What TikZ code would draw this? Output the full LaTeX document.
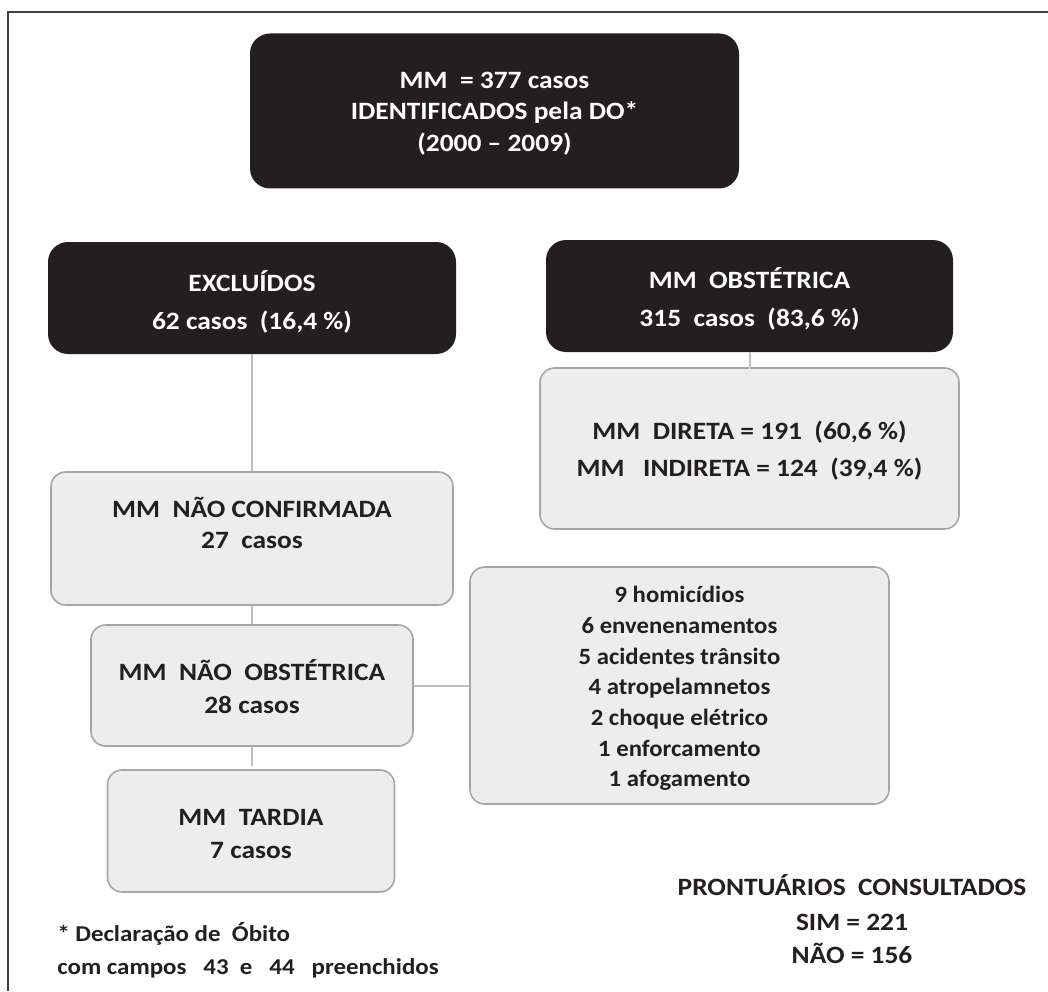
\documentclass[tikz,border=0pt]{standalone}
\usepackage{fontspec}
\setmainfont{Carlito}
\newfontfamily\widef[FakeStretch=1.1,Ligatures=TeX]{Carlito}
\newfontfamily\listf[FakeStretch=1.06,Ligatures=TeX]{Carlito}
\definecolor{darkbox}{HTML}{231F20}
\definecolor{lightfill}{HTML}{EDEDED}
\definecolor{lightdraw}{HTML}{A6A6A6}
\definecolor{conn}{HTML}{BFBFBF}
\definecolor{frame}{HTML}{404040}
\begin{document}
\begin{tikzpicture}[x=0.75pt,y=-0.75pt,
  darkbox/.style={fill=darkbox,draw=none,rounded corners=15pt,inner sep=0pt},
  lightbox/.style={fill=lightfill,draw=lightdraw,line width=1.2pt,rounded corners=11pt,inner sep=0pt},
  txt/.style={text=darkbox,align=center,inner sep=0pt,font=\widef\bfseries\fontsize{18.7}{24}\selectfont},
  wtxt/.style={txt,text=white},
  connector/.style={draw=conn,line width=1.5pt}]
\useasboundingbox (0,0) rectangle (1048,991);
% frame
\draw[frame,line width=1.2pt] (8,991) -- (8,12) -- (1048,12);
\coordinate (obstend) at (749.5,518);
\coordinate (tardiatop) at (252,766);
% dark boxes
\node[darkbox,minimum width=489*0.75pt,minimum height=155*0.75pt] (top) at (494.5,111) {};
\node[wtxt] (toptxt) at (494.5,113.5)
  {MM\ \ = 377 casos\\[-0.5pt] IDENTIFICADOS pela DO*\\[-0.5pt] (2000 – 2009)};
\node[darkbox,minimum width=408*0.75pt,minimum height=112*0.75pt] (excl) at (252,298) {};
\node[wtxt] (excltxt) at (252,302)
  {EXCLUÍDOS\\[4.5pt] 62 casos\ \ (16,4 \%)};
\node[darkbox,minimum width=407*0.75pt,minimum height=112*0.75pt] (obst) at (749.5,296) {};
\node[wtxt] (obsttxt) at (749.5,298.5)
  {MM\ \ OBSTÉTRICA\\[4.5pt] 315\ \ casos\ \ (83,6 \%)};
% light boxes
\draw[connector] (obst.south) -- (749.5,368);
\node[lightbox,minimum width=419*0.75pt,minimum height=161*0.75pt] (direta) at (749.5,448.5) {};
\draw[draw=black!8,line width=1pt] (direta.north) -- (obstend);
\node[txt] (diretatxt) at (749.5,450.5)
  {MM\ \ DIRETA = 191\ \ (60,6 \%)\\[3.5pt] MM\ \ \ INDIRETA = 124\ \ (39,4 \%)};
\node[lightbox,minimum width=402*0.75pt,minimum height=133*0.75pt] (naoconf) at (252,538.5) {};
\node[txt] (naoconftxt) at (252,523) {MM\ \ NÃO CONFIRMADA\\[-0.75pt] 27\ \ casos};
\node[lightbox,minimum width=322*0.75pt,minimum height=121*0.75pt] (naoobst) at (252,685.5) {};
\node[txt] (naoobsttxt) at (252,686.5) {MM\ \ NÃO\ \ OBSTÉTRICA\\[1pt] 28 casos};
\node[lightbox,minimum width=287*0.75pt,minimum height=122*0.75pt] (tardia) at (251,831) {};
\node[txt] (tardiatxt) at (251,834) {MM\ \ TARDIA\\[0.5pt] 7 casos};
\node[lightbox,minimum width=419*0.75pt,minimum height=237*0.75pt] (lista) at (679.5,685.5) {};
\node[txt,font=\listf\bfseries\fontsize{17.5}{23}\selectfont] (listatxt) at (679.5,688.5)
  {9 homicídios\\ 6 envenenamentos\\ 5 acidentes trânsito\\ 4 atropelamnetos\\ 2 choque elétrico\\ 1 enforcamento\\ 1 afogamento};
% connectors between nodes
\draw[connector] (excl.south) -- (naoconf.north);
\draw[connector] (naoconf.south) -- (naoobst.north);
\draw[connector] (naoobst.south) -- (tardiatop);
\draw[connector] (naoobst.east) -- (lista.west);
% notes
\node[txt] (pront) at (852,919)
  {PRONTUÁRIOS\ \ CONSULTADOS\\[2pt] SIM = 221\\[0.5pt] NÃO = 156};
\node[txt,align=left,anchor=west,font=\widef\bfseries\fontsize{17}{24.75}\selectfont] (nota) at (57,950)
  {* Declaração de\ \ Óbito\\ com campos\ \ \ 43\ \ e\ \ \ 44\ \ \ preenchidos};
\end{tikzpicture}
\end{document}
